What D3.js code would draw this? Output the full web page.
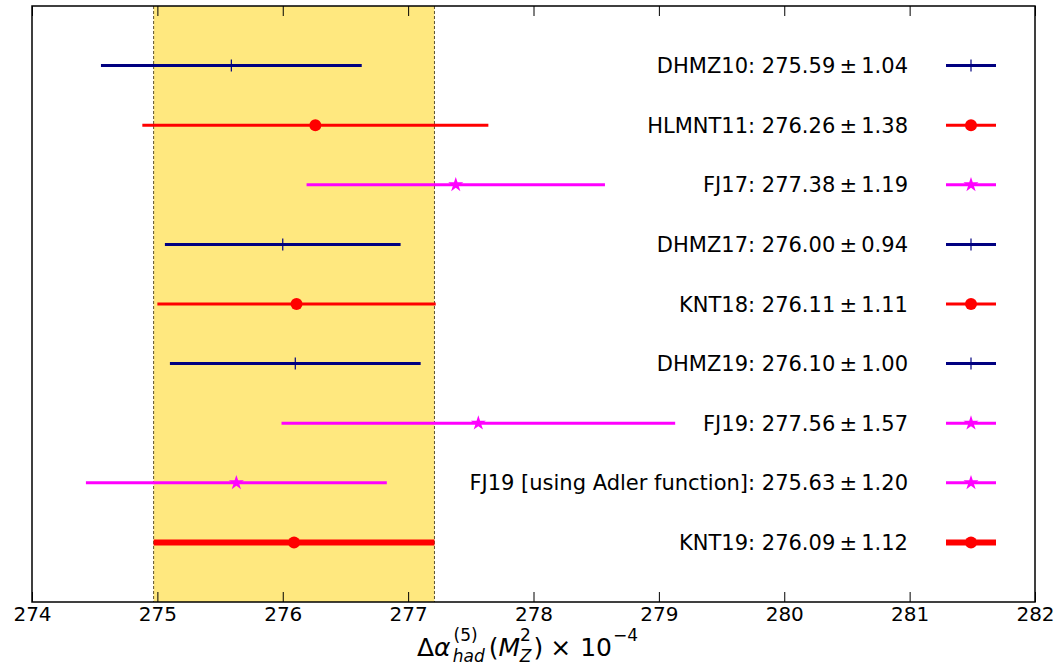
<!DOCTYPE html>
<html><head><meta charset="utf-8">
<script src="https://cdn.jsdelivr.net/npm/d3@7"></script>
<style>body{margin:0;background:#fff;} text{font-family:"DejaVu Sans",sans-serif;}</style>
</head><body><svg id="c" width="1054" height="667"></svg>
<script>
const labels = ["DHMZ10","HLMNT11","FJ17","DHMZ17","KNT18","DHMZ19","FJ19","FJ19 [using Adler function]","KNT19"];
const centers = [275.59,276.26,277.38,276.00,276.11,276.10,277.56,275.63,276.09];
const errors = [1.04,1.38,1.19,0.94,1.11,1.00,1.57,1.20,1.12];
const markers = ["plus","circle","star","plus","circle","plus","star","star","circle"];
const colors = ["#000080","#ff0000","#ff00ff","#000080","#ff0000","#000080","#ff00ff","#ff00ff","#ff0000"];
const widths = [3,3,3,3,3,3,3,3,6];
const xTicks = [274,275,276,277,278,279,280,281,282];
const band = [276.09-1.12, 276.09+1.12];

const svg = d3.select("#c");
const L=32, R=1035, T=6, B=602;
const x = d3.scaleLinear().domain([274,282]).range([L,R]);
const y = d3.scaleLinear().domain([0,10]).range([B,T]);

// band
svg.append("rect").attr("x",x(band[0])).attr("y",T).attr("width",x(band[1])-x(band[0])).attr("height",B-T)
  .attr("fill","#ffe87f");
band.forEach(v=>svg.append("line").attr("x1",x(v)).attr("x2",x(v)).attr("y1",T).attr("y2",B)
  .attr("stroke","#5a5030").attr("stroke-width",1).attr("stroke-dasharray","3,2"));

function marker(g, type, cx, cy, color){
  if(type==="circle") g.append("circle").attr("cx",cx).attr("cy",cy).attr("r",6).attr("fill",color);
  else if(type==="plus"){
    g.append("line").attr("x1",cx).attr("x2",cx).attr("y1",cy-6).attr("y2",cy+6).attr("stroke",color).attr("stroke-width",1.2);
    g.append("line").attr("x1",cx-6).attr("x2",cx+6).attr("y1",cy).attr("y2",cy).attr("stroke",color).attr("stroke-width",1.2);
  } else {
    g.append("path").attr("d",d3.symbol(d3.symbolStar,70)()).attr("transform",`translate(${cx},${cy})`).attr("fill",color);
  }
}

const g = svg.append("g");
labels.forEach((lab,i)=>{
  const yy = y(9-i);
  g.append("line").attr("x1",x(centers[i]-errors[i])).attr("x2",x(centers[i]+errors[i]))
    .attr("y1",yy).attr("y2",yy).attr("stroke",colors[i]).attr("stroke-width",widths[i]);
  marker(g, markers[i], x(centers[i]), yy, colors[i]);
  // legend
  g.append("text").attr("x",908).attr("y",yy).attr("dy","0.36em").attr("text-anchor","end")
    .attr("font-size",21).attr("fill","#000")
    .text(`${lab}: ${centers[i].toFixed(2)}\u2009\u00b1\u2009${errors[i].toFixed(2)}`);
  g.append("line").attr("x1",946).attr("x2",996).attr("y1",yy).attr("y2",yy)
    .attr("stroke",colors[i]).attr("stroke-width",widths[i]);
  marker(g, markers[i], 971, yy, colors[i]);
});

// frame
svg.append("rect").attr("x",L).attr("y",T).attr("width",R-L).attr("height",B-T)
  .attr("fill","none").attr("stroke","#000").attr("stroke-width",1.5);

// axes
const ax = svg.append("g").attr("transform",`translate(0,${B})`)
  .call(d3.axisBottom(x).tickValues(xTicks).tickFormat(d3.format("d")).tickSizeInner(-10).tickSizeOuter(0).tickPadding(5));
ax.select(".domain").remove();
ax.selectAll(".tick line").attr("stroke","#000").attr("stroke-width",1);
ax.selectAll(".tick text").attr("font-size",20).attr("font-family","DejaVu Sans").attr("fill","#000");
const axt = svg.append("g").attr("transform",`translate(0,${T})`)
  .call(d3.axisTop(x).tickValues(xTicks).tickFormat("").tickSizeInner(-10).tickSizeOuter(0));
axt.select(".domain").remove();
axt.selectAll(".tick line").attr("stroke","#000");

// x label
const xl = svg.append("text").attr("x",417).attr("y",656).attr("text-anchor","start").attr("font-size",25).attr("fill","#000");
xl.append("tspan").text("\u0394");
xl.append("tspan").attr("font-style","italic").text("\u03b1");
xl.append("tspan").attr("font-size",17).attr("dx",3).attr("dy",-15).text("(5)");
xl.append("tspan").attr("font-size",17).attr("font-style","italic").attr("dx",-25).attr("dy",21).text("had");
xl.append("tspan").attr("dx",4).attr("dy",-6).text("(");
xl.append("tspan").attr("font-style","italic").text("M");
xl.append("tspan").attr("font-size",17).attr("dy",-15).text("2");
xl.append("tspan").attr("font-size",17).attr("font-style","italic").attr("dx",-11).attr("dy",21).text("Z");
xl.append("tspan").attr("dx",2).attr("dy",-6).text(")");
xl.append("tspan").attr("dx",7).text("\u00d7");
xl.append("tspan").attr("dx",9).text("10");
xl.append("tspan").attr("font-size",17).attr("dx",1).attr("dy",-15).text("\u22124");
</script></body></html>
